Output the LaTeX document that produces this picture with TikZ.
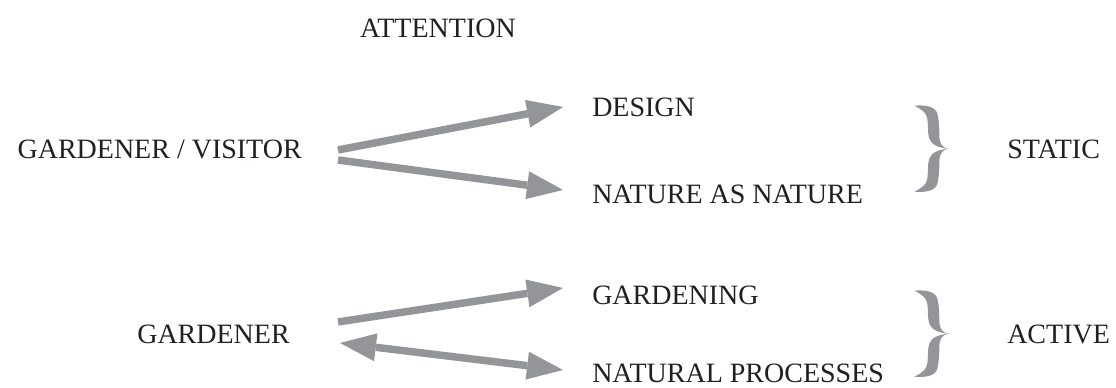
\documentclass[tikz,border=0pt]{standalone}
\usepackage{fontspec}
\setmainfont{Liberation Serif}
\usetikzlibrary{arrows.meta}

\definecolor{inkdark}{RGB}{35,31,32}
\definecolor{arrowgray}{RGB}{147,149,152}

\tikzset{
  >={Triangle[length=27pt,width=21pt,line width=0pt]},
  term/.style={font=\fontsize{21}{25}\selectfont, text=inkdark, inner sep=0pt, text height=14pt, text depth=0pt},
  flow/.style={draw=arrowgray, line width=5.6pt, ->},
  twoway/.style={flow, <->},
  % curly brace, tip at the pic origin
  gbrace/.pic={
    \fill[arrowgray] (0,0) .. controls (-6,-1) and (-9,-5) .. (-9,-13)
      .. controls (-9,-24) and (-10,-31) .. (-11,-35)
      .. controls (-13,-42) and (-22,-44) .. (-34,-43)
      .. controls (-26,-39) and (-22,-36) .. (-21,-30)
      .. controls (-20,-23) and (-21,-15) .. (-19,-10)
      .. controls (-17,-4) and (-10,-1) .. (0,0) -- cycle;
    \fill[arrowgray] (0,0) .. controls (-6,1) and (-9,5) .. (-9,13)
      .. controls (-9,24) and (-10,31) .. (-11,35)
      .. controls (-13,42) and (-22,44) .. (-34,43)
      .. controls (-26,39) and (-22,36) .. (-21,30)
      .. controls (-20,23) and (-21,15) .. (-19,10)
      .. controls (-17,4) and (-10,1) .. (0,0) -- cycle;
  }
}

\begin{document}
\begin{tikzpicture}[x=0.75pt,y=-0.75pt]
	\useasboundingbox (0,0) rectangle (1116,387);
	% labels
	\node[term, anchor=base] (attn) at (438,37) {ATTENTION};
	\node[term, anchor=base east] (gv) at (302,158) {GARDENER / VISITOR};
	\node[term, anchor=base west] (design) at (592,116) {DESIGN};
	\node[term, anchor=base west] (nan) at (592,203) {NATURE AS NATURE};
	\node[term, anchor=base west] (static) at (1007,158) {STATIC};
	\node[term, anchor=base east] (gdnr) at (290,343) {GARDENER};
	\node[term, anchor=base west] (gdng) at (592,304) {GARDENING};
	\node[term, anchor=base west] (natproc) at (592,382) {NATURAL PROCESSES};
	\node[term, anchor=base west] (active) at (1007,343) {ACTIVE};
	% arrows
	\draw[flow] ([shift={(36,1.3)}]gv.east) -- ([shift={(-29,0.3)}]design.west);
	\draw[flow] ([shift={(36,11.3)}]gv.east) -- ([shift={(-29,-3.7)}]nan.west);
	\draw[flow] ([shift={(48,-11.7)}]gdnr.east) -- ([shift={(-29,-6.7)}]gdng.west);
	\draw[twoway] ([shift={(50,9.3)}]gdnr.east) -- ([shift={(-29,-2.7)}]natproc.west);
	% braces
	\pic at ([xshift=-44]static.west) {gbrace};
	\pic at ([xshift=-44]active.west) {gbrace};
\end{tikzpicture}
\end{document}
